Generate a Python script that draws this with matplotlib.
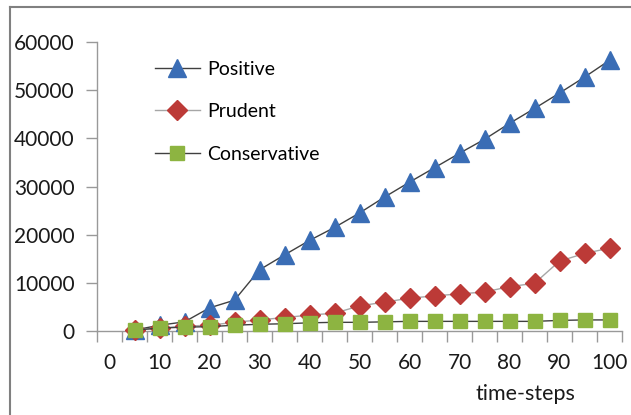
import matplotlib
matplotlib.use("Agg")
from matplotlib import pyplot as plt
from matplotlib.lines import Line2D
from matplotlib.ticker import FixedLocator

# данные
steps = [5, 10, 15, 20, 25, 30, 35, 40, 45, 50, 55, 60, 65, 70, 75, 80, 85, 90, 95, 100]
positive = [200, 1200, 1900, 4800, 6400, 12700, 15800, 18800, 21500, 24500,
            27800, 30900, 33900, 36900, 39800, 43100, 46200, 49400, 52700, 56200]
prudent = [200, 600, 1000, 1200, 1800, 2300, 2800, 3300, 3700, 5200,
           6000, 6800, 7300, 7700, 8100, 9200, 9900, 14500, 16100, 17200]
conservative = [200, 600, 800, 900, 1200, 1400, 1500, 1700, 1800, 1800,
                1900, 2000, 2000, 2000, 2000, 2000, 2000, 2200, 2300, 2300]
x_labels = [0, 10, 20, 30, 40, 50, 60, 70, 80, 90, 100]
y_ticks = [0, 10000, 20000, 30000, 40000, 50000, 60000]

plt.rcParams['font.family'] = ['Lato', 'DejaVu Sans']

W, H = 631, 415
fig = plt.figure(figsize=(W / 100, H / 100), dpi=100)
ax = fig.add_axes([97 / W, 1 - 331 / H, (622 - 97) / W, (331 - 42) / H])

ax.plot(steps, positive, color='#404040', lw=1.0, marker='^', ms=13,
        mfc='#3A6DB5', mec='#3A6DB5', label='Positive', clip_on=False, zorder=3)
ax.plot(steps, prudent, color='#A6A6A6', lw=1.0, marker='D', ms=10,
        mfc='#BC3A37', mec='#BC3A37', label='Prudent', clip_on=False, zorder=4)
ax.plot(steps, conservative, color='#404040', lw=1.0, marker='s', ms=9.5,
        mfc='#8DB441', mec='#8DB441', label='Conservative', clip_on=False, zorder=5)

ax.set_xlim(-2.5, 102.5)
ax.set_ylim(0, 60000)

# деления по границам категорий, подписи по центрам
ax.xaxis.set_major_locator(FixedLocator([-2.5 + 5 * i for i in range(22)]))
ax.xaxis.set_minor_locator(FixedLocator(x_labels))
ax.set_xticklabels([])
ax.set_xticklabels([str(v) for v in x_labels], minor=True)
ax.tick_params(axis='x', which='major', length=8, width=1, color='#999999', direction='out')
ax.tick_params(axis='x', which='minor', length=0, pad=16, labelsize=15, labelcolor='#1a1a1a')

ax.set_yticks(y_ticks)
ax.set_yticklabels([str(v) for v in y_ticks])
ax.tick_params(axis='y', length=8, width=1, color='#999999', direction='out',
               pad=8, labelsize=15, labelcolor='#1a1a1a')

for side in ['top', 'right']:
    ax.spines[side].set_visible(False)
for side in ['left', 'bottom']:
    ax.spines[side].set_color('#999999')
    ax.spines[side].set_linewidth(1)

fig.text(525 / W, 1 - 394 / H, 'time-steps', ha='center', va='center',
         fontsize=15.5, color='#1a1a1a')

ax.legend(loc='upper left', bbox_to_anchor=(155 / W, 1 - 61 / H),
          bbox_transform=fig.transFigure, frameon=False, fontsize=14,
          handlelength=2.3, labelspacing=1.3, handletextpad=0.4, borderpad=0,
          borderaxespad=0)

# рамка области диаграммы (обрезана справа и снизу)
fig.add_artist(Line2D([10 / W, 10 / W], [0, 1 - 7 / H], color='#808080', lw=1.5))
fig.add_artist(Line2D([10 / W, 1], [1 - 7 / H, 1 - 7 / H], color='#808080', lw=1.5))

fig.savefig('out.png', dpi=100)
